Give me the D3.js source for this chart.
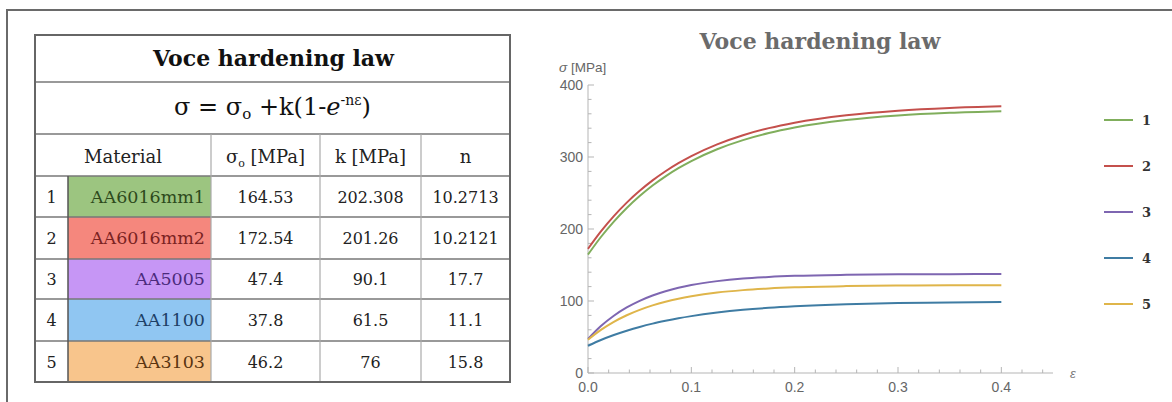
<!DOCTYPE html>
<html>
<head>
<meta charset="utf-8">
<script src="https://cdn.jsdelivr.net/npm/d3@7"></script>
<style>
  body { margin: 0; background: #fff; }
  svg { display: block; }
</style>
</head>
<body>
<svg id="chart"></svg>
<script>
// table data
const ids = ["1", "2", "3", "4", "5"];
const materials = ["AA6016mm1", "AA6016mm2", "AA5005", "AA1100", "AA3103"];
const sigma0 = ["164.53", "172.54", "47.4", "37.8", "46.2"];
const kVals = ["202.308", "201.26", "90.1", "61.5", "76"];
const nVals = ["10.2713", "10.2121", "17.7", "11.1", "15.8"];

// curves
const strain = [0, 0.0125, 0.025, 0.0375, 0.05, 0.0625, 0.075, 0.0875, 0.1, 0.125, 0.15, 0.175, 0.2, 0.25, 0.3, 0.35, 0.4];
const stress1 = [164.5, 188.9, 210.3, 229.2, 245.8, 260.4, 273.2, 284.5, 294.4, 310.8, 323.5, 333.3, 340.9, 351.3, 357.6, 361.3, 363.5];
const stress2 = [172.5, 196.7, 217.9, 236.6, 253.0, 267.5, 280.2, 291.4, 301.3, 317.6, 330.3, 340.1, 347.7, 358.1, 364.4, 368.2, 370.4];
const stress3 = [47.4, 65.3, 79.6, 91.1, 100.3, 107.7, 113.6, 118.4, 122.2, 127.6, 131.2, 133.4, 134.9, 136.4, 137.1, 137.3, 137.5];
const stress4 = [37.8, 45.8, 52.7, 58.7, 64.0, 68.6, 72.5, 76.0, 79.0, 83.9, 87.7, 90.5, 92.6, 95.5, 97.1, 98.0, 98.6];
const stress5 = [46.2, 59.8, 71.0, 80.2, 87.7, 93.9, 99.0, 103.1, 106.5, 111.7, 115.1, 117.4, 119.0, 120.7, 121.5, 121.9, 122.0];

const xTicks = [0, 0.1, 0.2, 0.3, 0.4];
const yTicks = [0, 100, 200, 300, 400];

const cellFill = ["#9cc580", "#f5877d", "#c696f5", "#90c6f2", "#f8c58c"];
const cellText = ["#2d4a1c", "#7a2222", "#4b2a7c", "#1d3f66", "#5a3410"];
const lineColors = ["#80ae5c", "#c4504c", "#7e66b1", "#3f7ca3", "#dfb54a"];

const W = 1172, H = 402;
const svg = d3.select("#chart").attr("width", W).attr("height", H);
svg.append("rect").attr("width", W).attr("height", H).attr("fill", "#fff");

// outer frame (top + left)
svg.append("path").attr("d", `M7,${H} V10 H${W}`)
  .attr("fill", "none").attr("stroke", "#6a6a6a").attr("stroke-width", 2);

// ---------- table ----------
const serif = "'DejaVu Serif', 'Liberation Serif', serif";
const tx0 = 35, tx1 = 510;
const colX = [35, 68, 211, 320, 421, 510];
const rowY = [35, 82, 134, 176, 217, 259, 299, 341, 382];
const tbl = svg.append("g");

materials.forEach((m, i) => {
  tbl.append("rect")
    .attr("x", colX[1]).attr("y", rowY[i + 3])
    .attr("width", colX[2] - colX[1]).attr("height", rowY[i + 4] - rowY[i + 3])
    .attr("fill", cellFill[i]);
});

// grid lines
rowY.slice(1, -1).forEach(y => {
  tbl.append("line").attr("x1", tx0).attr("x2", tx1).attr("y1", y).attr("y2", y)
    .attr("stroke", "#777").attr("stroke-width", 1.5);
});
colX.slice(2, -1).forEach(x => {
  tbl.append("line").attr("x1", x).attr("x2", x).attr("y1", rowY[2]).attr("y2", rowY[8])
    .attr("stroke", "#aaa").attr("stroke-width", 1.2);
});
tbl.append("line").attr("x1", colX[1]).attr("x2", colX[1]).attr("y1", rowY[3]).attr("y2", rowY[8])
  .attr("stroke", "#555").attr("stroke-width", 1.5);
tbl.append("rect").attr("x", tx0).attr("y", rowY[0])
  .attr("width", tx1 - tx0).attr("height", rowY[8] - rowY[0])
  .attr("fill", "none").attr("stroke", "#666").attr("stroke-width", 2);

tbl.append("text").attr("x", (tx0 + tx1) / 2 + 1).attr("y", 66)
  .attr("text-anchor", "middle").attr("font-family", serif)
  .attr("font-weight", "bold").attr("font-size", 22).attr("fill", "#111")
  .text("Voce hardening law");

const f = tbl.append("text").attr("x", (tx0 + tx1) / 2).attr("y", 115)
  .attr("text-anchor", "middle").attr("font-family", serif)
  .attr("font-size", 24).attr("fill", "#111");
f.append("tspan").text("σ = σ");
f.append("tspan").attr("font-size", 15).attr("dy", 4).text("o");
f.append("tspan").attr("dy", -4).text(" +k(1-");
f.append("tspan").attr("font-style", "italic").text("e");
f.append("tspan").attr("font-size", 14).attr("dy", -10).text("-nε");
f.append("tspan").attr("dy", 10).text(")");

const hdrY = 163;
const hdr = (x, t) => tbl.append("text").attr("x", x).attr("y", hdrY)
  .attr("text-anchor", "middle").attr("font-family", serif)
  .attr("font-size", 18).attr("fill", "#222").text(t);
hdr((colX[0] + colX[2]) / 2, "Material");
const hs = hdr((colX[2] + colX[3]) / 2, "");
hs.append("tspan").text("σ");
hs.append("tspan").attr("font-size", 11).attr("dy", 4).text("o");
hs.append("tspan").attr("dy", -4).text(" [MPa]");
hdr((colX[3] + colX[4]) / 2, "k [MPa]");
hdr((colX[4] + colX[5]) / 2, "n");

materials.forEach((m, i) => {
  const y = (rowY[i + 3] + rowY[i + 4]) / 2 + 6;
  const cell = (x, t, anchor, col, size) => tbl.append("text").attr("x", x).attr("y", y)
    .attr("text-anchor", anchor).attr("font-family", serif)
    .attr("font-size", size).attr("fill", col).text(t);
  cell((colX[0] + colX[1]) / 2, ids[i], "middle", "#222", 16);
  cell(colX[2] - 6, m, "end", cellText[i], 17.5);
  cell((colX[2] + colX[3]) / 2, sigma0[i], "middle", "#222", 16);
  cell((colX[3] + colX[4]) / 2, kVals[i], "middle", "#222", 16);
  cell((colX[4] + colX[5]) / 2, nVals[i], "middle", "#222", 16);
});

// ---------- plot ----------
const sans = "'Liberation Sans', Arial, sans-serif";
const x = d3.scaleLinear().domain([0, 0.45]).range([588, 1053]);
const y = d3.scaleLinear().domain([0, 400]).range([373, 85]);
const plot = svg.append("g");
const axisCol = "#b5b5b5";

plot.append("line").attr("x1", x(0)).attr("x2", x(0.45)).attr("y1", y(0)).attr("y2", y(0))
  .attr("stroke", axisCol);
plot.append("line").attr("x1", x(0)).attr("x2", x(0)).attr("y1", y(0)).attr("y2", y(400))
  .attr("stroke", axisCol);

d3.range(0, 0.4401, 0.02).forEach(v => {
  const major = xTicks.some(t => Math.abs(t - v) < 1e-6);
  plot.append("line").attr("x1", x(v)).attr("x2", x(v))
    .attr("y1", y(0)).attr("y2", y(0) - (major ? 6 : 3.5)).attr("stroke", axisCol);
});
d3.range(0, 400.1, 20).forEach(v => {
  const major = yTicks.includes(v);
  plot.append("line").attr("x1", x(0)).attr("x2", x(0) + (major ? 6 : 3.5))
    .attr("y1", y(v)).attr("y2", y(v)).attr("stroke", axisCol);
});

xTicks.forEach(v => {
  plot.append("text").attr("x", x(v)).attr("y", y(0) + 19)
    .attr("text-anchor", "middle").attr("font-family", sans).attr("font-size", 14)
    .attr("fill", "#666").text(d3.format(".1f")(v));
});
yTicks.forEach(v => {
  plot.append("text").attr("x", x(0) - 5).attr("y", y(v) + 5)
    .attr("text-anchor", "end").attr("font-family", sans).attr("font-size", 14)
    .attr("fill", "#666").text(v);
});

const yl = plot.append("text").attr("x", 559).attr("y", 72)
  .attr("font-family", sans).attr("font-size", 13.5).attr("fill", "#666");
yl.append("tspan").attr("font-style", "italic").text("σ");
yl.append("tspan").text(" [MPa]");
plot.append("text").attr("x", 1070).attr("y", 378)
  .attr("font-family", sans).attr("font-style", "italic").attr("font-size", 13)
  .attr("fill", "#777").text("ε");

plot.append("text").attr("x", 820).attr("y", 49)
  .attr("text-anchor", "middle").attr("font-family", serif)
  .attr("font-weight", "bold").attr("font-size", 22).attr("fill", "#6b6b6b")
  .text("Voce hardening law");

const series = [stress1, stress2, stress3, stress4, stress5];
const line = d3.line().x((d, i) => x(strain[i])).y(d => y(d)).curve(d3.curveMonotoneX);
series.forEach((s, i) => {
  plot.append("path").datum(s).attr("d", line)
    .attr("fill", "none").attr("stroke", lineColors[i]).attr("stroke-width", 2);
});

// legend
ids.forEach((id, i) => {
  const ly = 120 + i * 46;
  plot.append("line").attr("x1", 1104).attr("x2", 1133).attr("y1", ly).attr("y2", ly)
    .attr("stroke", lineColors[i]).attr("stroke-width", 2);
  plot.append("text").attr("x", 1142).attr("y", ly + 5)
    .attr("font-family", serif).attr("font-weight", "bold").attr("font-size", 13)
    .attr("fill", "#333").text(id);
});
</script>
</body>
</html>
